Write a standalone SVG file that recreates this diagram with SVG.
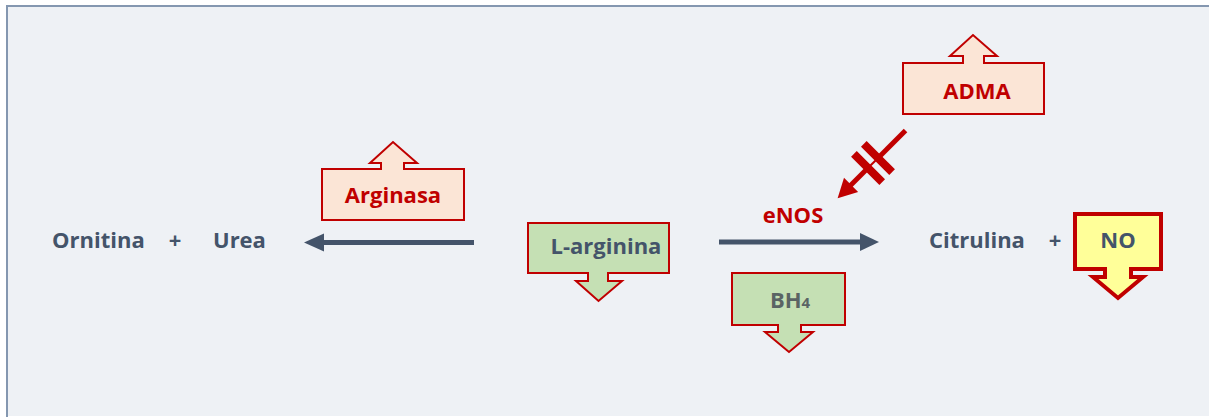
<svg xmlns="http://www.w3.org/2000/svg" width="1212" height="418" viewBox="0 0 1212 418">
  <defs>
    <style>
      .t { font-family: "Open Sans", "Liberation Sans", sans-serif; font-weight: 700; font-size: 22px; }
      .slate { fill: #44546a; }
      .red { fill: #c00000; }
      .peach { fill: #fbe5d6; stroke: #c00000; stroke-width: 2; }
      .green { fill: #c5e0b4; stroke: #c00000; stroke-width: 2; }
      .yellow { fill: #ffff99; stroke: #c00000; stroke-width: 4; }
      .flow { stroke: #44546a; stroke-width: 5; fill: none; }
    </style>
  </defs>
  <rect x="0" y="0" width="1212" height="418" fill="#ffffff"/>
  <rect x="7" y="6" width="1202" height="410" fill="#eef1f5"/>
  <path d="M7,417 V6 H1209" fill="none" stroke="#8497b0" stroke-width="2"/>

  <g id="ornitina"><text class="t slate" x="52" y="248">Ornitina</text></g>
  <g id="plus1"><text class="t slate" x="175" y="248" text-anchor="middle">+</text></g>
  <g id="urea"><text class="t slate" x="213" y="248">Urea</text></g>

  <g id="arginasa">
    <path class="peach" d="M322,169 H381 V163 H370 L393,142 L417,163 H404 V169 H464 V220 H322 Z"/>
    <text class="t red" x="393" y="203" text-anchor="middle">Arginasa</text>
  </g>

  <g id="l-arginina">
    <path class="green" d="M528,223 H669 V273 H608 V281 H622 L598.5,301 L576,281 H588 V273 H528 Z"/>
    <text class="t slate" x="606" y="254" text-anchor="middle">L-arginina</text>
  </g>

  <g id="enos"><text class="t red" x="793" y="223" text-anchor="middle">eNOS</text></g>

  <g id="bh4">
    <path class="green" d="M732,273 H845 V325 H801 V332 H813 L789,352 L765,332 H778 V325 H732 Z"/>
    <text class="t" fill="#5a6464" x="790" y="308" text-anchor="middle">BH<tspan font-size="15">4</tspan></text>
  </g>

  <g id="adma">
    <path class="peach" d="M903,63 H963 V56 H950 L973,35 L997,56 H984 V63 H1044 V114 H903 Z"/>
    <text class="t red" x="977" y="99" text-anchor="middle">ADMA</text>
  </g>

  <g id="citrulina"><text class="t slate" x="929" y="248">Citrulina</text></g>
  <g id="plus2"><text class="t slate" x="1055" y="248" text-anchor="middle">+</text></g>

  <g id="no">
    <path class="yellow" d="M1075,214 H1161 V269 H1131 V277 H1143 L1118,298 L1093,277 H1105 V269 H1075 Z"/>
    <text class="t slate" x="1118" y="248" text-anchor="middle">NO</text>
  </g>

  <g id="connectors">
    <line class="flow" x1="474" y1="242.5" x2="320" y2="242.5"/>
    <polygon fill="#44546a" points="304,242.5 324,233.5 324,251.5"/>
    <line class="flow" x1="719" y1="242" x2="863" y2="242"/>
    <polygon fill="#44546a" points="879,242 860,233 860,251"/>
    <g transform="translate(873,163) rotate(135)">
      <line x1="-46" y1="0" x2="-10" y2="0" stroke="#c00000" stroke-width="5"/>
      <line x1="-4" y1="0" x2="4" y2="0" stroke="#c00000" stroke-width="2"/>
      <line x1="10" y1="0" x2="34" y2="0" stroke="#c00000" stroke-width="5"/>
      <polygon fill="#c00000" points="50,0 31,-10 31,10"/>
      <rect x="-11" y="-20" width="8" height="40" fill="#c00000"/>
      <rect x="3" y="-20" width="8" height="40" fill="#c00000"/>
    </g>
  </g>
</svg>
